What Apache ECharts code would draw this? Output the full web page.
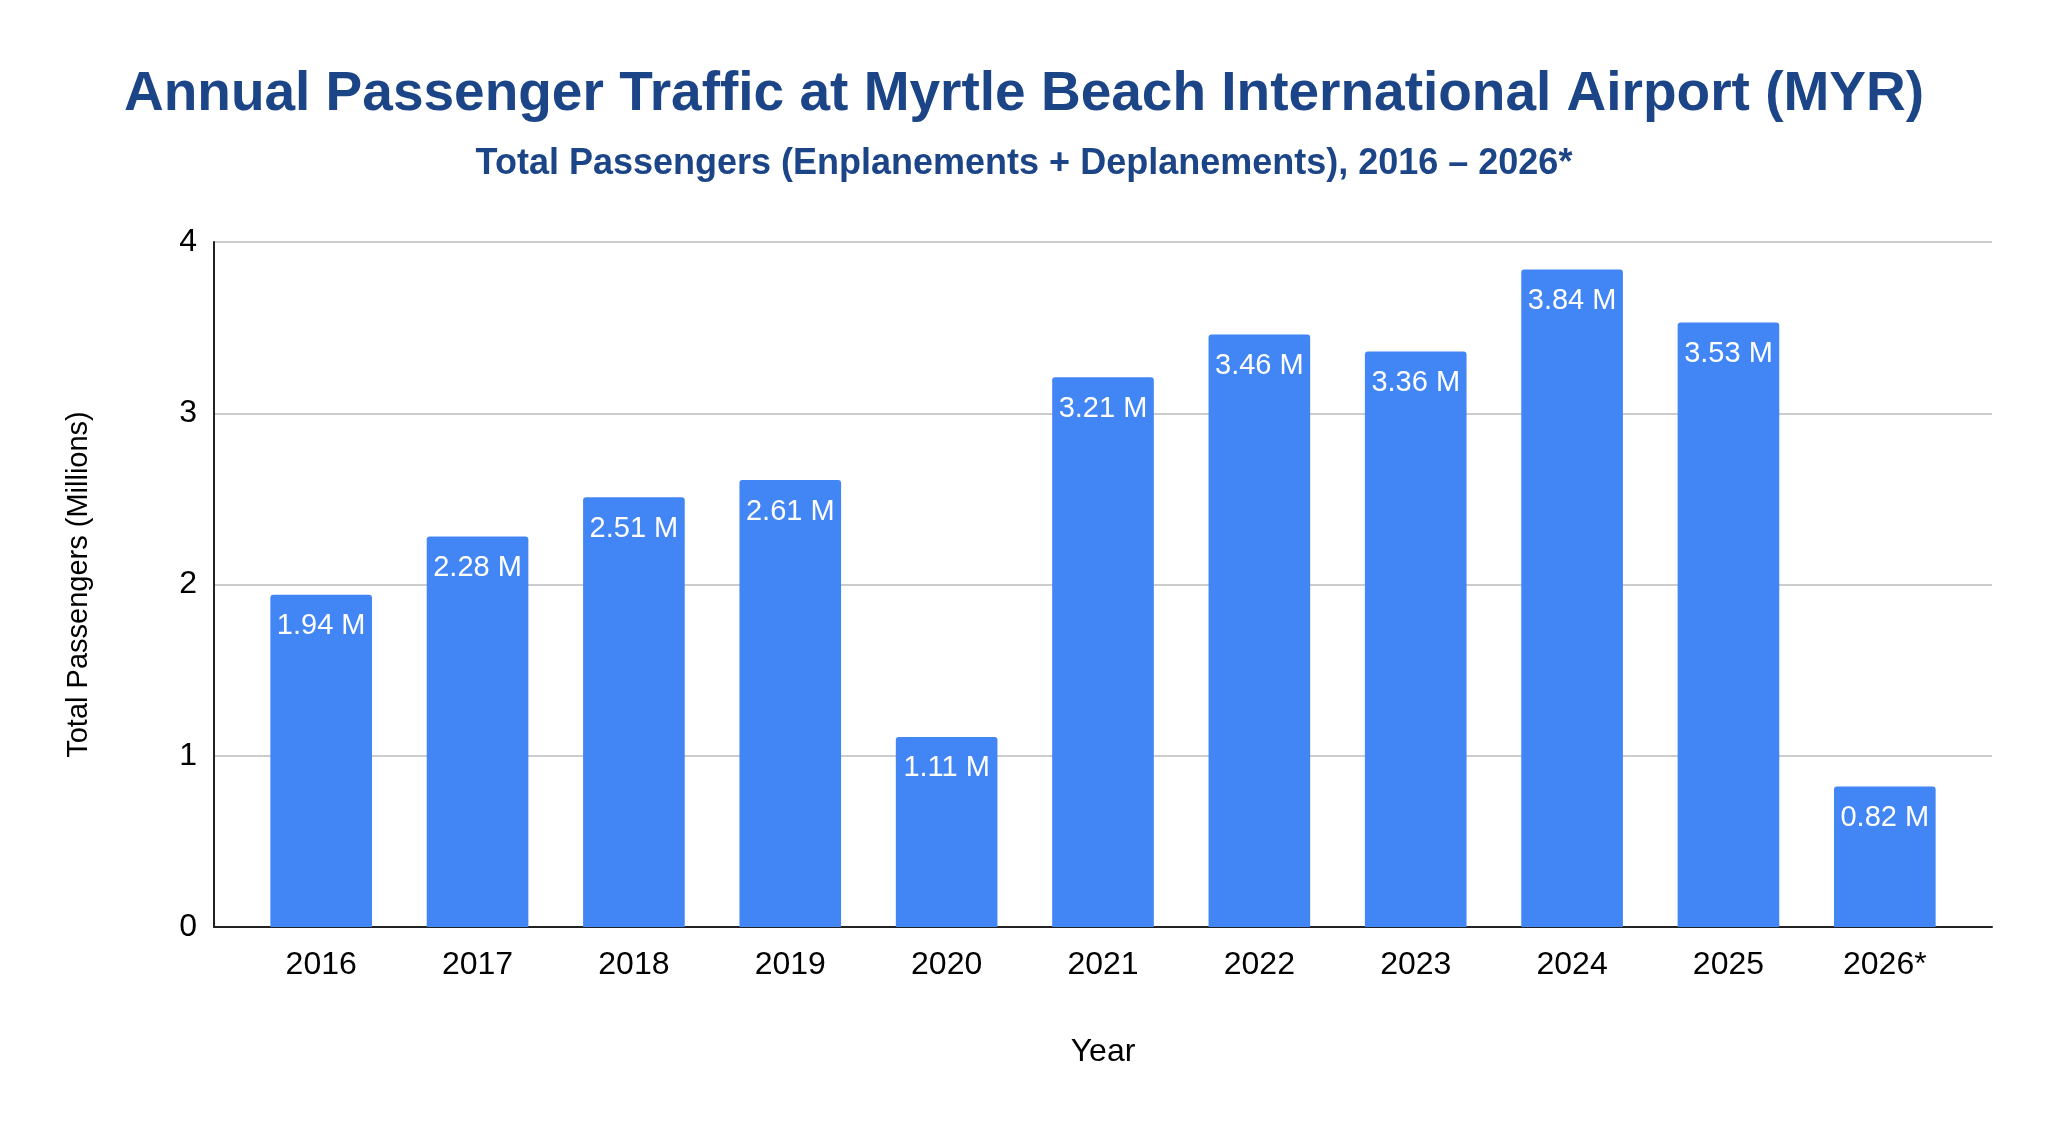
<!DOCTYPE html>
<html>
<head>
<meta charset="utf-8">
<script src="https://cdn.jsdelivr.net/npm/echarts@6/dist/echarts.min.js"></script>
<style>
html,body{margin:0;padding:0;background:#fff;}
#chart{width:2048px;height:1124px;}
</style>
</head>
<body>
<div id="chart"></div>
<script>
const titleText = 'Annual Passenger Traffic at Myrtle Beach International Airport (MYR)';
const subtitleText = 'Total Passengers (Enplanements + Deplanements), 2016 \u2013 2026*';
const years = ['2016','2017','2018','2019','2020','2021','2022','2023','2024','2025','2026*'];
const passengersMillions = [1.94, 2.28, 2.51, 2.61, 1.11, 3.21, 3.46, 3.36, 3.84, 3.53, 0.82];
const yTicks = [0, 1, 2, 3, 4];

const FONT = '"Liberation Sans", Arial, sans-serif';
const chart = echarts.init(document.getElementById('chart'));
chart.setOption({
  animation: false,
  backgroundColor: '#ffffff',
  title: [
    {
      text: titleText, left: 'center', top: 62,
      textStyle: {fontFamily: FONT, fontSize: 55, fontWeight: 'bold', color: '#1c4587'}
    },
    {
      text: subtitleText, left: 'center', top: 141,
      textStyle: {fontFamily: FONT, fontSize: 36, fontWeight: 'bold', color: '#1c4587'}
    }
  ],
  grid: [
    {left: 214, right: 56, top: 242, bottom: 197, containLabel: false},
    {left: 243, right: 85, top: 242, bottom: 197, containLabel: false}
  ],
  xAxis: [
    {
      gridIndex: 0,
      type: 'value',
      min: 0, max: 1,
      name: 'Year',
      nameLocation: 'middle',
      nameGap: 109,
      nameTextStyle: {fontFamily: FONT, fontSize: 32, color: '#000'},
      axisLine: {show: true, lineStyle: {color: '#222', width: 2}},
      axisTick: {show: false},
      axisLabel: {show: false},
      splitLine: {show: false}
    },
    {
      gridIndex: 1,
      type: 'category',
      data: years,
      axisLine: {show: false},
      axisTick: {show: false},
      axisLabel: {fontFamily: FONT, fontSize: 32, color: '#000', margin: 22}
    }
  ],
  yAxis: [
    {
      gridIndex: 0,
      type: 'value',
      min: yTicks[0],
      max: yTicks[yTicks.length - 1],
      interval: 1,
      name: 'Total Passengers (Millions)',
      nameLocation: 'middle',
      nameGap: 121,
      nameTextStyle: {fontFamily: FONT, fontSize: 29, color: '#000'},
      axisLine: {show: true, lineStyle: {color: '#222', width: 2}},
      axisTick: {show: false},
      splitLine: {show: true, lineStyle: {color: '#cccccc', width: 2}},
      axisLabel: {fontFamily: FONT, fontSize: 32, color: '#000', margin: 17}
    },
    {
      gridIndex: 1,
      type: 'value',
      min: yTicks[0],
      max: yTicks[yTicks.length - 1],
      interval: 1,
      show: false,
      splitLine: {show: false}
    }
  ],
  series: [{
    type: 'bar',
    xAxisIndex: 1,
    yAxisIndex: 1,
    data: passengersMillions,
    barWidth: '65%',
    itemStyle: {color: '#4285f4', borderRadius: [3, 3, 0, 0]},
    label: {
      show: true,
      position: 'insideTop',
      distance: 17,
      fontFamily: FONT,
      fontSize: 29,
      color: '#ffffff',
      formatter: p => p.value.toFixed(2) + ' M'
    }
  }]
});
</script>
</body>
</html>
